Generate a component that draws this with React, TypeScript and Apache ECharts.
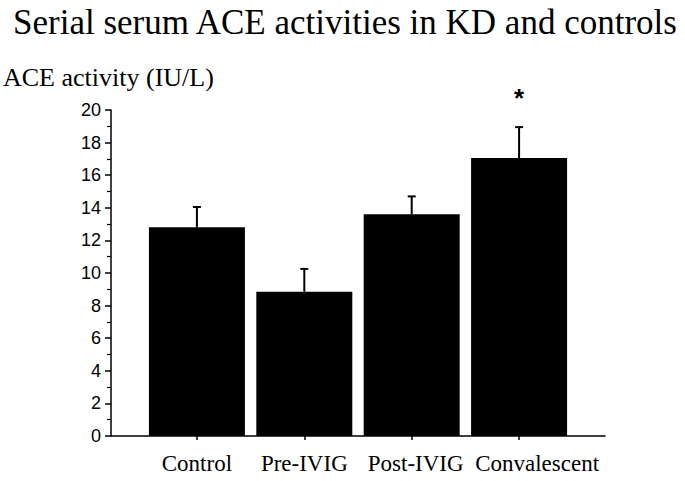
import React, { useEffect, useRef } from "react";
import * as echarts from "echarts";

const categories = ["Control", "Pre-IVIG", "Post-IVIG", "Convalescent"];
const means = [12.8, 8.85, 13.6, 17.05];
const sds = [1.25, 1.4, 1.1, 1.9];
const marks = ["", "", "", "*"];
const yTicks = [0, 2, 4, 6, 8, 10, 12, 14, 16, 18, 20];

const serif = "'Liberation Serif', 'Times New Roman', serif";
const sans = "'Liberation Sans', Arial, sans-serif";

export default function App() {
  const ref = useRef<HTMLDivElement>(null);
  useEffect(() => {
    if (!ref.current) return;
    const chart = echarts.init(ref.current, null, { renderer: "svg" });
    const idx = categories.map((_, i) => i);
    const labelStyle = { fontFamily: serif, fontSize: 23, color: "#000" };
    chart.setOption({
      animation: false,
      backgroundColor: "#fff",
      title: [
        {
          text: "Serial serum ACE activities in KD and controls",
          left: 8,
          top: 0,
          textStyle: { fontFamily: serif, fontSize: 35, fontWeight: "normal", color: "#000" },
        },
        {
          text: "ACE activity (IU/L)",
          left: -2,
          top: 59,
          textStyle: { fontFamily: serif, fontSize: 26, fontWeight: "normal", color: "#000" },
        },
      ],
      grid: { left: 111, right: 80, top: 110, bottom: 45 },
      xAxis: {
        type: "value",
        min: -0.8,
        max: 3.8,
        splitLine: { show: false },
        axisLine: { show: true, onZero: false, lineStyle: { color: "#000", width: 1.5 } },
        axisTick: { show: true, customValues: idx, length: 4, lineStyle: { color: "#000", width: 1.5 } },
        axisLabel: {
          customValues: idx,
          formatter: (v: number) => {
            const i = Math.round(v);
            return categories[i] ? `{c${i}|${categories[i]}}` : "";
          },
          rich: {
            c0: { ...labelStyle },
            c1: { ...labelStyle },
            c2: { ...labelStyle, padding: [0, 0, 0, 8] },
            c3: { ...labelStyle, padding: [0, 0, 0, 36] },
          },
          ...labelStyle,
          margin: 16,
        },
      },
      yAxis: {
        type: "value",
        min: yTicks[0],
        max: yTicks[yTicks.length - 1],
        interval: 2,
        splitLine: { show: false },
        axisLine: { show: true, onZero: false, lineStyle: { color: "#000", width: 1.5 } },
        axisTick: { show: true, length: 6, lineStyle: { color: "#000", width: 1.5 } },
        minorTick: { show: true, splitNumber: 2, length: 4, lineStyle: { color: "#000", width: 1.2 } },
        axisLabel: { fontFamily: sans, fontSize: 18, color: "#000", margin: 10 },
      },
      series: [
        {
          type: "bar",
          barWidth: 96,
          itemStyle: { color: "#000" },
          data: means.map((m, i) => [i, m]),
        },
        {
          type: "custom",
          data: means.map((m, i) => [i, m, m + sds[i]]),
          renderItem: (params: any, api: any) => {
            const x = api.value(0);
            const base = api.coord([x, api.value(1)]);
            const top = api.coord([x, api.value(2)]);
            const children: any[] = [
              {
                type: "line",
                shape: { x1: base[0], y1: base[1], x2: top[0], y2: top[1] },
                style: { stroke: "#000", lineWidth: 2 },
              },
              {
                type: "line",
                shape: { x1: top[0] - 4, y1: top[1], x2: top[0] + 4, y2: top[1] },
                style: { stroke: "#000", lineWidth: 2 },
              },
            ];
            const mk = marks[params.dataIndex];
            if (mk) {
              children.push({
                type: "text",
                style: {
                  text: mk,
                  x: top[0],
                  y: top[1] - 16,
                  align: "center",
                  verticalAlign: "bottom",
                  font: `bold 26px ${sans}`,
                  fill: "#000",
                },
              });
            }
            return { type: "group", children };
          },
          z: 3,
        },
      ],
    });
    return () => chart.dispose();
  }, []);
  return <div ref={ref} style={{ width: 685, height: 481, position: "absolute", left: 0, top: 0 }} />;
}
